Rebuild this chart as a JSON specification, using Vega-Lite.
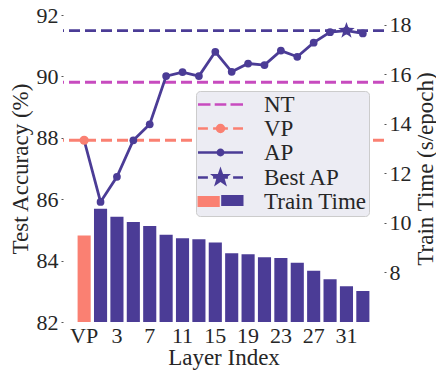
{
  "$schema": "https://vega.github.io/schema/vega-lite/v6.json",
  "width": 321,
  "height": 307,
  "autosize": "none",
  "padding": {"left": 63, "top": 15, "right": 52, "bottom": 48},
  "background": "white",
  "config": {
    "font": "Liberation Serif",
    "view": {"fill": "#eaeaf2", "stroke": null},
    "axis": {"labelColor": "#262626", "titleColor": "#262626", "labelFontWeight": "normal", "titleFontWeight": "normal", "domain": false, "labelFont": "Liberation Serif", "titleFont": "Liberation Serif"},
    "legend": {"labelFont": "Liberation Serif", "labelFontSize": 23, "labelColor": "#262626"}
  },
  "datasets": {
    "main": [
      {"layer": "VP", "acc": 87.92, "time": 9.49},
      {"layer": "1", "acc": 85.91, "time": 10.57},
      {"layer": "3", "acc": 86.73, "time": 10.25},
      {"layer": "5", "acc": 87.92, "time": 10.04},
      {"layer": "7", "acc": 88.44, "time": 9.88},
      {"layer": "9", "acc": 90.01, "time": 9.52},
      {"layer": "11", "acc": 90.14, "time": 9.38},
      {"layer": "13", "acc": 90.01, "time": 9.34},
      {"layer": "15", "acc": 90.80, "time": 9.21},
      {"layer": "17", "acc": 90.15, "time": 8.78},
      {"layer": "19", "acc": 90.42, "time": 8.74},
      {"layer": "21", "acc": 90.37, "time": 8.62},
      {"layer": "23", "acc": 90.84, "time": 8.58},
      {"layer": "25", "acc": 90.64, "time": 8.39},
      {"layer": "27", "acc": 91.10, "time": 8.07},
      {"layer": "29", "acc": 91.44, "time": 7.73},
      {"layer": "31", "acc": 91.49, "time": 7.44},
      {"layer": "33", "acc": 91.40, "time": 7.25}
    ],
    "refs": [
      {"series": "NT", "acc": 89.81},
      {"series": "VP", "acc": 87.92},
      {"series": "Best AP", "acc": 91.49}
    ],
    "best": [{"layer": "31", "acc": 91.49}],
    "vp": [{"layer": "VP", "acc": 87.92}],
    "legend": [
      {"series": "NT"}, {"series": "VP"}, {"series": "AP"}, {"series": "Best AP"}, {"series": "Train Time"}
    ]
  },
  "layer": [
    {
      "data": {"name": "main"},
      "mark": {"type": "bar", "clip": true},
      "encoding": {
        "x": {"field": "layer", "type": "ordinal", "sort": null,
          "scale": {"domain": ["VP","1","3","5","7","9","11","13","15","17","19","21","23","25","27","29","31","33"], "paddingInner": 0.2, "paddingOuter": 0.89},
          "axis": {"title": "Layer Index", "values": ["VP","3","7","11","15","19","23","27","31"], "labelAngle": 0, "grid": true, "gridColor": "white", "gridWidth": 1.5, "ticks": false, "labelPadding": 3, "labelFontSize": 22, "titleFontSize": 23, "titlePadding": 0, "bandPosition": 0.5}},
        "y": {"field": "time", "type": "quantitative",
          "scale": {"domain": [6, 18.4], "zero": false, "nice": false},
          "axis": {"orient": "right", "title": "Train Time (s/epoch)", "values": [8,10,12,14,16,18], "grid": false, "tickSize": 2, "tickColor": "#555", "labelPadding": 3, "labelFontSize": 22, "titleFontSize": 23, "titleAngle": -90, "titleBaseline": "top", "titlePadding": 3}},
        "color": {"condition": {"test": "datum.layer === 'VP'", "value": "#fa8072"}, "value": "#4b3c96"}
      }
    },
    {
      "layer": [
        {
          "data": {"name": "refs"},
          "mark": {"type": "rule", "strokeDash": [11, 5], "strokeWidth": 2.8},
          "encoding": {
            "y": {"field": "acc", "type": "quantitative"},
            "color": {"condition": [{"test": "datum.series === 'NT'", "value": "#c74bbf"}, {"test": "datum.series === 'VP'", "value": "#fa8072"}], "value": "#4b3c96"}
          }
        },
        {
          "data": {"name": "main"},
          "mark": {"type": "line", "color": "#4b3c96", "strokeWidth": 2.8},
          "encoding": {
            "x": {"field": "layer", "type": "ordinal", "sort": null},
            "y": {"field": "acc", "type": "quantitative",
              "scale": {"domain": [82, 92], "zero": false, "nice": false},
              "axis": {"orient": "left", "title": "Test Accuracy (%)", "values": [82,82.5,83,83.5,84,84.5,85,85.5,86,86.5,87,87.5,88,88.5,89,89.5,90,90.5,91,91.5,92],
                "labelExpr": "datum.value % 2 === 0 ? datum.label : ''",
                "grid": true, "gridWidth": 1.5,
                "gridColor": {"condition": {"test": "datum.value % 2 === 0", "value": "white"}, "value": "transparent"},
                "tickSize": 2, "tickColor": "#555", "labelPadding": 3, "labelFontSize": 22, "titleFontSize": 23, "titlePadding": 4}},
            "order": {"value": null}
          }
        },
        {
          "data": {"name": "main"},
          "transform": [{"filter": "datum.layer !== 'VP'"}],
          "mark": {"type": "point", "filled": true, "opacity": 1, "color": "#4b3c96", "size": 60},
          "encoding": {
            "x": {"field": "layer", "type": "ordinal", "sort": null},
            "y": {"field": "acc", "type": "quantitative"}
          }
        },
        {
          "data": {"name": "vp"},
          "mark": {"type": "point", "filled": true, "opacity": 1, "color": "#fa8072", "size": 85},
          "encoding": {
            "x": {"field": "layer", "type": "ordinal", "sort": null},
            "y": {"field": "acc", "type": "quantitative"}
          }
        },
        {
          "data": {"name": "best"},
          "mark": {"type": "point", "filled": true, "opacity": 1, "color": "#4b3c96", "size": 300,
            "shape": "M0,-1L0.235,-0.324L0.951,-0.309L0.38,0.124L0.588,0.809L0,0.4L-0.588,0.809L-0.38,0.124L-0.951,-0.309L-0.235,-0.324Z"},
          "encoding": {
            "x": {"field": "layer", "type": "ordinal", "sort": null},
            "y": {"field": "acc", "type": "quantitative"}
          }
        },
        {
          "data": {"name": "legend"},
          "mark": {"type": "point", "opacity": 0, "filled": true},
          "encoding": {
            "fill": {"field": "series", "type": "nominal",
              "scale": {"domain": ["NT","VP","AP","Best AP","Train Time"], "range": ["#c74bbf","#fa8072","#4b3c96","#4b3c96","#fa8072"]},
              "legend": {"title": null, "orient": "none", "legendX": 133, "legendY": 76, "padding": 2, "rowPadding": 0, "symbolSize": 400, "symbolStrokeWidth": 2.5, "symbolOffset": 11, "labelOffset": 32, "labelFontSize": 23, "labelFont": "Liberation Serif", "labelColor": "#262626", "labelLimit": 0, "fillColor": "#ececf3", "strokeColor": "#cccccc", "cornerRadius": 4, "symbolOpacity": 1}},
            "stroke": {"field": "series", "type": "nominal",
              "scale": {"domain": ["NT","VP","AP","Best AP","Train Time"], "range": ["#c74bbf","#fa8072","#4b3c96","#4b3c96","#fa8072"]},
              "legend": {"title": null, "orient": "none", "legendX": 133, "legendY": 76, "padding": 2, "rowPadding": 0, "symbolSize": 400, "symbolStrokeWidth": 2.5, "symbolOffset": 11, "labelOffset": 32, "labelFontSize": 23, "labelFont": "Liberation Serif", "labelColor": "#262626", "labelLimit": 0, "fillColor": "#ececf3", "strokeColor": "#cccccc", "cornerRadius": 4, "symbolOpacity": 1}},
            "shape": {"field": "series", "type": "nominal",
              "scale": {"domain": ["NT","VP","AP","Best AP","Train Time"], "range": [
                "M-2.25,0H-1M-0.58,0H0.58M1,0H2.25",
                "M-2.25,0H-1.26M-0.74,0H0.74M1.26,0H2.25M0.35,0A0.35,0.35 0 1,1 -0.35,0A0.35,0.35 0 1,1 0.35,0Z",
                "M-2.25,0H2.25M0.27,0A0.27,0.27 0 1,1 -0.27,0A0.27,0.27 0 1,1 0.27,0Z",
                "M-2.25,0H-1.26M-0.74,0H0.74M1.26,0H2.25M0,-0.72L0.168,-0.232L0.685,-0.222L0.274,0.089L0.423,0.582L0,0.288L-0.423,0.582L-0.274,0.089L-0.685,-0.222L-0.168,-0.232Z",
                "M-2.17,-0.42H-0.2V0.42H-2.17Z"
              ]},
              "legend": {"title": null, "orient": "none", "legendX": 133, "legendY": 76, "padding": 2, "rowPadding": 0, "symbolSize": 400, "symbolStrokeWidth": 2.5, "symbolOffset": 11, "labelOffset": 32, "labelFontSize": 23, "labelFont": "Liberation Serif", "labelColor": "#262626", "labelLimit": 0, "fillColor": "#ececf3", "strokeColor": "#cccccc", "cornerRadius": 4, "symbolOpacity": 1}}
          }
        },
        {
          "data": {"name": "legend"},
          "mark": {"type": "point", "opacity": 0, "filled": true, "color": "#4b3c96"},
          "encoding": {
            "shape": {"field": "series", "type": "nominal",
              "scale": {"domain": ["NT","VP","AP","Best AP","Train Time"], "range": ["M0,0", "M0,0", "M0,0", "M0,0", "M0.07,-0.55H2.3V0.55H0.07Z"]},
              "legend": {"title": null, "orient": "none", "legendX": 133, "legendY": 76, "padding": 2, "rowPadding": 0, "symbolSize": 400, "symbolStrokeWidth": 2.5, "symbolOffset": 11, "labelOffset": 32, "labelFontSize": 23, "labelFont": "Liberation Serif", "labelColor": "transparent", "labelLimit": 0, "fillColor": "transparent", "strokeColor": "transparent", "symbolOpacity": 1, "zindex": 2}}
          }
        }
      ],
      "resolve": {"scale": {"shape": "independent", "fill": "independent", "stroke": "independent"}, "legend": {"shape": "independent", "fill": "independent", "stroke": "independent"}}
    }
  ],
  "resolve": {"scale": {"y": "independent"}, "axis": {"y": "independent"}}
}
